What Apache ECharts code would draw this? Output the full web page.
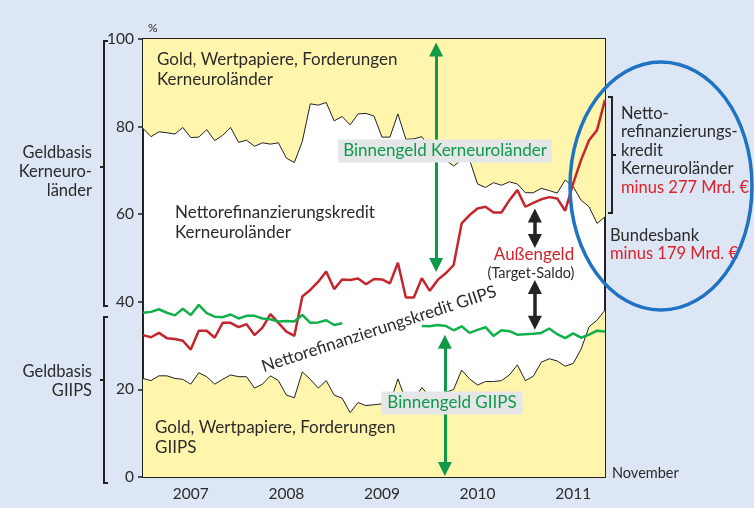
<!DOCTYPE html>
<html>
<head>
<meta charset="utf-8">
<script src="https://cdn.jsdelivr.net/npm/echarts@6/dist/echarts.min.js"></script>
<style>
  html, body { margin: 0; padding: 0; background: #dde6f4; }
  #chart { width: 754px; height: 508px; }
</style>
</head>
<body>
<div id="chart"></div>
<script>
// Monatswerte Jan 2007 bis Nov 2011 (Index 0..58), in % der Geldbasis
const years = ['2007', '2008', '2009', '2010', '2011']

// Grenze: Gold, Wertpapiere, Forderungen Kerneuroländer (oberer gelber Bereich)
const upperLine = [
  79.6, 77.7, 78.8, 78.6, 78.3, 79.8, 77.5, 77.6, 79.3, 76.8, 78.0, 79.8,
  76.4, 76.9, 75.5, 76.3, 76.0, 76.3, 72.8, 71.8, 76.6, 85.2, 84.9, 85.5,
  81.3, 82.3, 80.4, 82.9, 83.0, 82.4, 77.6, 77.6, 82.9, 77.1, 77.2, 77.7,
  75.0, 73.5, 72.4, 71.0, 72.4, 72.4, 66.9, 66.1, 67.2, 66.6, 67.4, 66.9,
  64.9, 64.9, 65.9, 65.4, 64.8, 67.8, 66.3, 63.2, 61.7, 57.9, 59.4
]

// Grenze: Gold, Wertpapiere, Forderungen GIIPS (unterer gelber Bereich)
const lowerLine = [
  22.5, 22.0, 23.1, 23.1, 22.5, 22.3, 21.2, 23.8, 22.9, 21.2, 22.3, 23.3,
  22.9, 22.9, 20.3, 21.2, 23.1, 22.0, 18.7, 18.1, 24.0, 22.3, 20.3, 22.0,
  18.7, 18.0, 14.7, 17.0, 16.3, 16.5, 16.7, 16.8, 22.4, 17.5, 17.5, 20.4,
  18.5, 18.5, 19.3, 20.0, 24.4, 22.4, 21.0, 21.8, 21.8, 22.0, 23.3, 25.6,
  22.0, 23.0, 26.2, 27.0, 26.5, 25.3, 25.9, 29.2, 34.3, 35.8, 38.1
]

// rote Linie (Nettorefinanzierungskredit Kerneuroländer / Außengeld)
const redLine = [
  32.4, 31.9, 32.9, 31.7, 31.5, 31.1, 29.1, 33.4, 33.4, 31.8, 35.2, 35.2,
  34.2, 34.9, 32.4, 34.1, 37.2, 35.2, 33.2, 32.2, 41.2, 42.7, 44.6, 46.9,
  42.9, 45.1, 45.0, 45.3, 44.0, 45.2, 45.1, 44.2, 48.9, 41.0, 41.0, 45.4,
  42.5, 45.0, 46.5, 48.4, 57.9, 59.8, 61.3, 61.7, 60.4, 60.4, 63.2, 65.5,
  61.7, 62.6, 63.4, 63.9, 63.6, 60.8, 67.0, 72.4, 76.9, 79.2, 86.1
]

// grüne Linie (Nettorefinanzierungskredit GIIPS), Lücke 2009
const greenLine = [
  37.5, 37.7, 38.3, 37.5, 36.9, 38.4, 37.0, 39.3, 37.4, 36.6, 36.5, 37.1,
  36.2, 36.8, 36.8, 36.2, 36.0, 35.5, 35.6, 35.5, 37.0, 35.2, 35.3, 35.8,
  34.7, 35.1, null, null, null, null, null, null, null, null, null, 34.5,
  34.4, 34.7, 34.5, 33.5, 34.4, 32.9, 33.6, 34.2, 32.2, 33.5, 33.3, 32.5,
  32.6, 32.7, 32.9, 33.9, 32.6, 31.7, 32.8, 31.8, 32.5, 33.4, 33.2
]

const yellow = '#fff5ad'
const green = '#0f9a4a'
const red = '#c4262e'
const textColor = '#2b2b2b'
const fontFamily = 'Lato, "Noto Sans", sans-serif'

const toPairs = arr => arr.map((v, i) => [i, v])

const chart = echarts.init(document.getElementById('chart'))

const txt = (x, y, text, opts = {}) => ({
  type: 'text',
  x: x,
  y: y,
  rotation: opts.rotation || 0,
  z: 100,
  style: Object.assign({
    text: text,
    fill: textColor,
    font: (opts.size || 17) + 'px ' + fontFamily,
    lineHeight: opts.lineHeight || 19,
    align: 'left',
    verticalAlign: 'top'
  }, opts.style || {})
})

const bracket = (x, y1, y2, dir) => ({
  type: 'polyline',
  z: 100,
  shape: {
    points: [[x + dir * 4, y1], [x, y1], [x, y2], [x + dir * 4, y2]]
  },
  style: { stroke: '#222', lineWidth: 2, fill: 'none' }
})

const tick = (x, y, len) => ({
  type: 'line',
  z: 100,
  shape: { x1: x, y1: y, x2: x + len, y2: y },
  style: { stroke: '#222', lineWidth: 2 }
})

// Pfeil in Datenkoordinaten (Monat, Prozent)
const arrow = (x, y1, y2, color, width) => [
  { coord: [x, y1], lineStyle: { color: color, width: width || 3, type: 'solid' }, itemStyle: { color: color } },
  { coord: [x, y2] }
]

const option = {
  backgroundColor: '#dde6f4',
  animation: false,
  grid: {
    left: 143,
    right: 149,
    top: 39,
    bottom: 31,
    show: true,
    backgroundColor: '#ffffff',
    borderColor: '#222',
    borderWidth: 2
  },
  xAxis: {
    type: 'value',
    min: 0,
    max: 58,
    splitLine: { show: false },
    axisLine: { show: true, lineStyle: { color: '#222', width: 2 } },
    axisTick: {
      show: true,
      inside: true,
      length: 6,
      customValues: [12, 24, 36, 48],
      lineStyle: { color: '#222', width: 1.5 }
    },
    axisLabel: {
      customValues: [6, 18, 30, 42, 54],
      formatter: v => years[Math.floor(v / 12)],
      color: textColor,
      fontSize: 15.5,
      fontFamily: fontFamily,
      margin: 9
    }
  },
  yAxis: {
    type: 'value',
    min: 0,
    max: 100,
    interval: 20,
    splitLine: { show: false },
    axisLine: { show: true, lineStyle: { color: '#222', width: 2 } },
    axisTick: { show: true, length: 5, lineStyle: { color: '#222', width: 1.5 } },
    axisLabel: { color: textColor, fontSize: 15.5, fontFamily: fontFamily, margin: 9 }
  },
  series: [
    {
      name: 'Kerneuroländer Gold',
      type: 'line',
      data: toPairs(upperLine),
      symbol: 'none',
      lineStyle: { color: '#222', width: 1 },
      areaStyle: { color: yellow, opacity: 1, origin: 'end' },
      z: 1
    },
    {
      name: 'GIIPS Gold',
      type: 'line',
      data: toPairs(lowerLine),
      symbol: 'none',
      lineStyle: { color: '#222', width: 1 },
      areaStyle: { color: yellow, opacity: 1, origin: 'start' },
      z: 1
    },
    {
      name: 'Kerneuroländer Kredit',
      type: 'line',
      data: toPairs(redLine),
      symbol: 'none',
      lineStyle: { color: red, width: 2.5 },
      z: 3
    },
    {
      name: 'GIIPS Kredit',
      type: 'line',
      data: toPairs(greenLine),
      symbol: 'none',
      connectNulls: false,
      lineStyle: { color: '#10b04a', width: 2.5 },
      z: 3,
      markLine: {
        silent: true,
        symbol: ['triangle', 'triangle'],
        symbolSize: [14, 14],
        label: { show: false },
        data: [
          arrow(36.8, 97.6, 48.4, green),
          arrow(37.9, 30.9, 1.8, green),
          arrow(49.2, 59.7, 53.9, '#222', 3.5),
          arrow(49.2, 43.4, 35.2, '#222', 3.5)
        ]
      }
    }
  ],
  graphic: [
    txt(148, 19, '%', { size: 12 }),
    txt(157, 50, 'Gold, Wertpapiere, Forderungen\nKerneuroländer', { lineHeight: 20 }),
    txt(175, 203, 'Nettorefinanzierungskredit\nKerneuroländer', { lineHeight: 20 }),
    txt(155, 418, 'Gold, Wertpapiere, Forderungen\nGIIPS', { lineHeight: 20 }),
    txt(379, 329, 'Nettorefinanzierungskredit GIIPS', {
      rotation: 18 * Math.PI / 180,
      style: { align: 'center', verticalAlign: 'middle' }
    }),
    txt(445, 151, 'Binnengeld Kerneuroländer', {
      style: {
        fill: green, align: 'center', verticalAlign: 'middle',
        backgroundColor: '#e4e6e8', padding: [2, 5, 2, 5]
      }
    }),
    txt(452, 403, 'Binnengeld GIIPS', {
      style: {
        fill: green, align: 'center', verticalAlign: 'middle',
        backgroundColor: '#e4e6e8', padding: [2, 6, 2, 6]
      }
    }),
    txt(534, 255, 'Außengeld', {
      style: { fill: '#d0202a', align: 'center', verticalAlign: 'middle' }
    }),
    txt(531, 273, '(Target-Saldo)', {
      size: 14.5,
      style: { align: 'center', verticalAlign: 'middle' }
    }),
    txt(612, 464, 'November', { size: 14.5 }),

    // rechte Seite
    bracket(612, 97, 213, -1),
    tick(612, 155, 4),
    txt(621, 104, 'Netto-\nrefinanzierungs-\nkredit\nKerneuroländer', { size: 16.5, lineHeight: 18.5 }),
    txt(621, 178, 'minus 277 Mrd. €', { size: 16.5, style: { fill: '#e0202a' } }),
    txt(610, 226, 'Bundesbank', { size: 16.5 }),
    txt(610, 244, 'minus 179 Mrd. €', { size: 16.5, style: { fill: '#e0202a' } }),
    {
      type: 'ellipse',
      z: 110,
      shape: { cx: 661, cy: 186, rx: 91, ry: 124 },
      style: { fill: 'none', stroke: '#1f72c4', lineWidth: 3.5 }
    },

    // linke Klammern
    bracket(104, 41, 306, 1),
    tick(104, 167, -4),
    txt(92, 143, 'Geldbasis\nKerneuro-\nländer', { size: 16.5, lineHeight: 19, style: { align: 'right' } }),
    bracket(104, 317, 483, 1),
    tick(104, 380, -4),
    txt(92, 362, 'Geldbasis\nGIIPS', { size: 16.5, lineHeight: 19, style: { align: 'right' } })
  ]
}

chart.setOption(option)
</script>
</body>
</html>
